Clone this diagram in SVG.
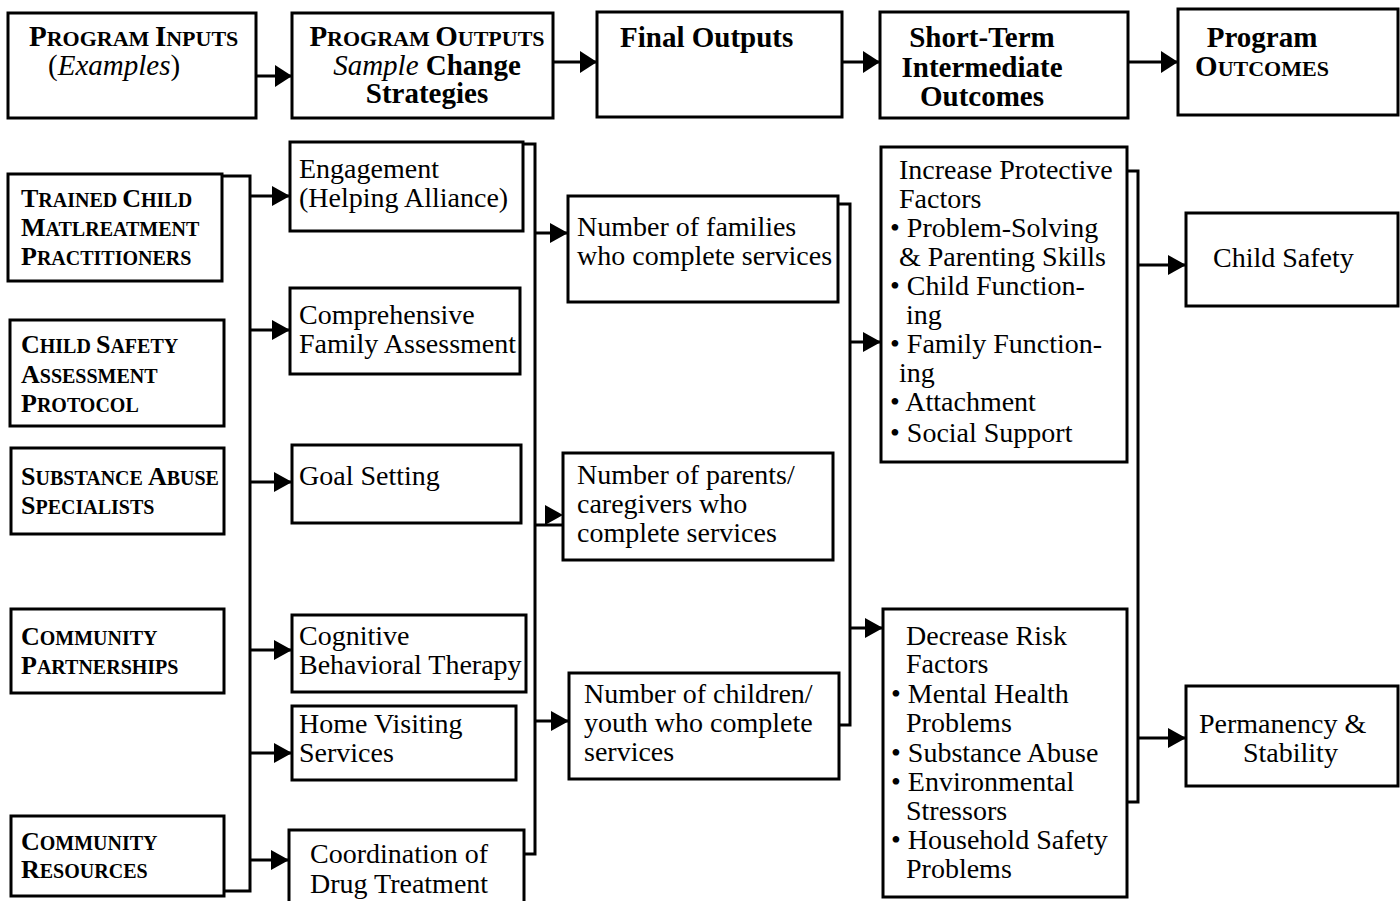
<svg xmlns="http://www.w3.org/2000/svg" width="1400" height="901" viewBox="0 0 1400 901">
<style>
.box{fill:#fff;stroke:#000;stroke-width:3}
.c{fill:none;stroke:#000;stroke-width:3}
text{font-family:"Liberation Serif","Times New Roman",serif;fill:#000}
.h{font-size:29px;font-weight:bold}
.hs{font-size:22px}
.hr{font-size:29px}
.i{font-size:26px;font-weight:bold}
.is{font-size:20px}
.t{font-size:28px}
.m{text-anchor:middle}
.it{font-style:italic;font-weight:normal}
</style>
<defs>
<marker id="ah" viewBox="0 0 18 20" markerWidth="18" markerHeight="20" refX="18" refY="10" orient="auto" markerUnits="userSpaceOnUse"><path d="M0,0 L18,10 L0,20 Z" fill="#000"/></marker>
<marker id="hh" viewBox="0 0 17 22" markerWidth="17" markerHeight="22" refX="17" refY="11" orient="auto" markerUnits="userSpaceOnUse"><path d="M0,0 L17,11 L0,22 Z" fill="#000"/></marker>
</defs>
<rect x="0" y="0" width="1400" height="901" fill="#fff"/>

<g id="connectors">
<path class="c" d="M256,76 H292" marker-end="url(#hh)"/>
<path class="c" d="M553,62 H597" marker-end="url(#hh)"/>
<path class="c" d="M842,62 H880" marker-end="url(#hh)"/>
<path class="c" d="M1128,62 H1178" marker-end="url(#hh)"/>
<path class="c" d="M222,176 H250 V891 H224"/>
<path class="c" d="M250,196 H290" marker-end="url(#ah)"/>
<path class="c" d="M250,330 H290" marker-end="url(#ah)"/>
<path class="c" d="M250,482 H292" marker-end="url(#ah)"/>
<path class="c" d="M250,650 H292" marker-end="url(#ah)"/>
<path class="c" d="M250,753 H292" marker-end="url(#ah)"/>
<path class="c" d="M250,860 H289" marker-end="url(#ah)"/>
<path class="c" d="M523,144 H535 V854 H524"/>
<path class="c" d="M535,233 H568" marker-end="url(#ah)"/>
<path class="c" d="M535,525 H563"/>
<path d="M545,505 L563,515 L545,525 Z" fill="#000"/>
<path class="c" d="M535,721 H569" marker-end="url(#ah)"/>
<path class="c" d="M838,204 H850 V725 H839"/>
<path class="c" d="M850,342 H881" marker-end="url(#ah)"/>
<path class="c" d="M850,628 H883" marker-end="url(#ah)"/>
<path class="c" d="M1127,171 H1138 V802 H1127"/>
<path class="c" d="M1138,265 H1186" marker-end="url(#ah)"/>
<path class="c" d="M1138,738 H1186" marker-end="url(#ah)"/>
</g>

<g id="hdr-inputs">
<rect class="box" x="8" y="13" width="248" height="105"/>
<text class="h" x="29" y="46">P<tspan class="hs">ROGRAM </tspan>I<tspan class="hs">NPUTS</tspan></text>
<text class="hr" x="48" y="75">(<tspan font-style="italic">Examples</tspan>)</text>
</g>
<g id="hdr-outputs">
<rect class="box" x="292" y="13" width="261" height="105"/>
<text class="h m" x="427" y="46">P<tspan class="hs">ROGRAM </tspan>O<tspan class="hs">UTPUTS</tspan></text>
<text class="h m" x="427" y="75"><tspan class="it">Sample</tspan> Change</text>
<text class="h m" x="427" y="103">Strategies</text>
</g>
<g id="hdr-final">
<rect class="box" x="597" y="12" width="245" height="105"/>
<text class="h" x="620" y="47">Final Outputs</text>
</g>
<g id="hdr-short">
<rect class="box" x="880" y="12" width="248" height="106"/>
<text class="h m" x="982" y="47">Short-Term</text>
<text class="h m" x="982" y="77">Intermediate</text>
<text class="h m" x="982" y="106">Outcomes</text>
</g>
<g id="hdr-outcomes">
<rect class="box" x="1178" y="9" width="220" height="106"/>
<text class="h m" x="1262" y="47">Program</text>
<text class="h m" x="1262" y="76">O<tspan class="hs">UTCOMES</tspan></text>
</g>

<g id="in-trained">
<rect class="box" x="8" y="174" width="214" height="107"/>
<text class="i" x="21" y="207">T<tspan class="is">RAINED </tspan>C<tspan class="is">HILD</tspan></text>
<text class="i" x="21" y="236">M<tspan class="is">ATLREATMENT</tspan></text>
<text class="i" x="21" y="265">P<tspan class="is">RACTITIONERS</tspan></text>
</g>
<g id="in-safety">
<rect class="box" x="10" y="320" width="214" height="106"/>
<text class="i" x="21" y="353">C<tspan class="is">HILD </tspan>S<tspan class="is">AFETY</tspan></text>
<text class="i" x="21" y="383">A<tspan class="is">SSESSMENT</tspan></text>
<text class="i" x="21" y="412">P<tspan class="is">ROTOCOL</tspan></text>
</g>
<g id="in-substance">
<rect class="box" x="11" y="448" width="213" height="86"/>
<text class="i" x="21" y="485">S<tspan class="is">UBSTANCE </tspan>A<tspan class="is">BUSE</tspan></text>
<text class="i" x="21" y="514">S<tspan class="is">PECIALISTS</tspan></text>
</g>
<g id="in-partnerships">
<rect class="box" x="11" y="609" width="213" height="84"/>
<text class="i" x="21" y="645">C<tspan class="is">OMMUNITY</tspan></text>
<text class="i" x="21" y="674">P<tspan class="is">ARTNERSHIPS</tspan></text>
</g>
<g id="in-resources">
<rect class="box" x="11" y="816" width="213" height="80"/>
<text class="i" x="21" y="850">C<tspan class="is">OMMUNITY</tspan></text>
<text class="i" x="21" y="878">R<tspan class="is">ESOURCES</tspan></text>
</g>

<g id="st-engagement">
<rect class="box" x="290" y="142" width="233" height="89"/>
<text class="t" x="299" y="178">Engagement</text>
<text class="t" x="299" y="207">(Helping Alliance)</text>
</g>
<g id="st-assessment">
<rect class="box" x="290" y="288" width="230" height="86"/>
<text class="t" x="299" y="324">Comprehensive</text>
<text class="t" x="299" y="353">Family Assessment</text>
</g>
<g id="st-goal">
<rect class="box" x="292" y="445" width="229" height="78"/>
<text class="t" x="299" y="485">Goal Setting</text>
</g>
<g id="st-cbt">
<rect class="box" x="292" y="615" width="234" height="77"/>
<text class="t" x="299" y="645">Cognitive</text>
<text class="t" x="299" y="674">Behavioral Therapy</text>
</g>
<g id="st-home">
<rect class="box" x="292" y="706" width="224" height="74"/>
<text class="t" x="299" y="733">Home Visiting</text>
<text class="t" x="299" y="762">Services</text>
</g>
<g id="st-drug">
<rect class="box" x="289" y="830" width="235" height="76"/>
<text class="t" x="310" y="863">Coordination of</text>
<text class="t" x="310" y="893">Drug Treatment</text>
</g>

<g id="fo-families">
<rect class="box" x="568" y="196" width="270" height="106"/>
<text class="t" x="577" y="236">Number of families</text>
<text class="t" x="577" y="265">who complete services</text>
</g>
<g id="fo-parents">
<rect class="box" x="563" y="453" width="270" height="107"/>
<text class="t" x="577" y="484">Number of parents/</text>
<text class="t" x="577" y="513">caregivers who</text>
<text class="t" x="577" y="542">complete services</text>
</g>
<g id="fo-children">
<rect class="box" x="569" y="673" width="270" height="106"/>
<text class="t" x="584" y="703">Number of children/</text>
<text class="t" x="584" y="732">youth who complete</text>
<text class="t" x="584" y="761">services</text>
</g>

<g id="io-increase">
<rect class="box" x="881" y="147" width="246" height="315"/>
<text class="t" x="899" y="179">Increase Protective</text>
<text class="t" x="899" y="208">Factors</text>
<text class="t" x="890" y="237">• Problem-Solving</text>
<text class="t" x="899" y="266">&amp; Parenting Skills</text>
<text class="t" x="890" y="295">• Child Function-</text>
<text class="t" x="906" y="324">ing</text>
<text class="t" x="890" y="353">• Family Function-</text>
<text class="t" x="899" y="382">ing</text>
<text class="t" x="890" y="411">• Attachment</text>
<text class="t" x="890" y="442">• Social Support</text>
</g>
<g id="io-decrease">
<rect class="box" x="883" y="609" width="244" height="288"/>
<text class="t" x="906" y="645">Decrease Risk</text>
<text class="t" x="906" y="673">Factors</text>
<text class="t" x="891" y="703">• Mental Health</text>
<text class="t" x="906" y="732">Problems</text>
<text class="t" x="891" y="762">• Substance Abuse</text>
<text class="t" x="891" y="791">• Environmental</text>
<text class="t" x="906" y="820">Stressors</text>
<text class="t" x="891" y="849">• Household Safety</text>
<text class="t" x="906" y="878">Problems</text>
</g>

<g id="po-safety">
<rect class="box" x="1186" y="213" width="212" height="93"/>
<text class="t" x="1213" y="267">Child Safety</text>
</g>
<g id="po-permanency">
<rect class="box" x="1186" y="686" width="212" height="100"/>
<text class="t" x="1199" y="733">Permanency &amp;</text>
<text class="t" x="1243" y="762">Stability</text>
</g>
</svg>
